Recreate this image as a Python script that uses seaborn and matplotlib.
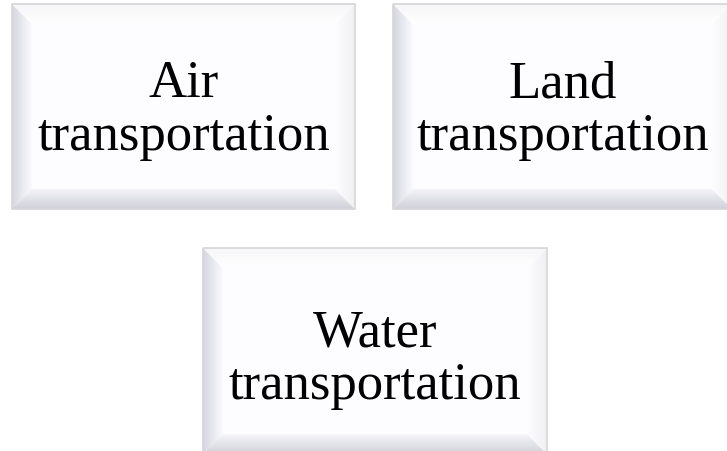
import numpy as np
import matplotlib
matplotlib.use("Agg")
import matplotlib.pyplot as plt
from matplotlib.patches import Polygon, Rectangle
from matplotlib.colors import to_rgb
import seaborn as sns

sns.set_theme(style="white")
plt.rcParams['font.family'] = ['Liberation Serif', 'DejaVu Serif']

# box labels (two lines each)
titles = ['Air', 'Land', 'Water']
subtitles = ['transportation', 'transportation', 'transportation']

# layout in pixel coords: left, top, right, bottom
boxes = [(12, 5, 355, 210), (393, 5, 732, 210), (203, 249, 547, 455)]
text_shift = [0, 0, 5]
bevel = 20


def gradient_patch(ax, verts, c_from, c_to, direction):
    poly = Polygon(verts, closed=True, facecolor='none', edgecolor='none')
    ax.add_patch(poly)
    a, b = np.array(to_rgb(c_from)), np.array(to_rgb(c_to))
    t = np.linspace(0, 1, 64)
    cols = a[None, :] * (1 - t[:, None]) + b[None, :] * t[:, None]
    if direction == 'h':
        img = cols[None, :, :]
    else:
        img = cols[:, None, :]
    xs = [v[0] for v in verts]
    ys = [v[1] for v in verts]
    # extent with y inverted axis: top first
    im = ax.imshow(img, extent=(min(xs), max(xs), max(ys), min(ys)),
                   aspect='auto', interpolation='bilinear', zorder=2)
    im.set_clip_path(poly)


def draw_box(ax, x0, y0, x1, y1, title, sub, dy):
    b = bevel
    ax.add_patch(Rectangle((x0, y0), x1 - x0, y1 - y0, facecolor='#fdfdff',
                           edgecolor='none', zorder=1))
    # left bevel: dark outside -> light inside
    gradient_patch(ax, [(x0, y0), (x0 + b, y0 + b), (x0 + b, y1 - b), (x0, y1)],
                   '#d6d6e0', '#fafaff', 'h')
    # bottom bevel: light inside (top) -> dark outside (bottom)
    gradient_patch(ax, [(x0, y1), (x0 + b, y1 - b), (x1 - b, y1 - b), (x1, y1)],
                   '#f6f6fc', '#d0d0d8', 'v')
    # right bevel: light
    gradient_patch(ax, [(x1, y0), (x1 - b, y0 + b), (x1 - b, y1 - b), (x1, y1)],
                   '#fdfdff', '#f0f0f3', 'h')
    # top bevel: nearly white
    gradient_patch(ax, [(x0, y0), (x0 + b, y0 + b), (x1 - b, y0 + b), (x1, y0)],
                   '#f6f6f8', '#ffffff', 'v')
    # outer rim
    ax.add_patch(Rectangle((x0, y0), x1 - x0, y1 - y0, facecolor='none',
                           edgecolor='#d6d6d8', lw=1.2, zorder=3))
    cx = (x0 + x1) / 2
    cy = (y0 + y1) / 2 + dy
    ax.text(cx, cy - 10.5, title, ha='center', va='baseline', fontsize=38,
            color='black', zorder=4)
    ax.text(cx, cy + 42.5, sub, ha='center', va='baseline', fontsize=38,
            color='black', zorder=4)


fig = plt.figure(figsize=(7.27, 4.52), dpi=100)
ax = fig.add_axes([0, 0, 1, 1])
ax.set_xlim(0, 727)
ax.set_ylim(452, 0)
ax.axis('off')

for (x0, y0, x1, y1), t, s, dy in zip(boxes, titles, subtitles, text_shift):
    draw_box(ax, x0, y0, x1, y1, t, s, dy)

fig.savefig('out.png', dpi=100)
